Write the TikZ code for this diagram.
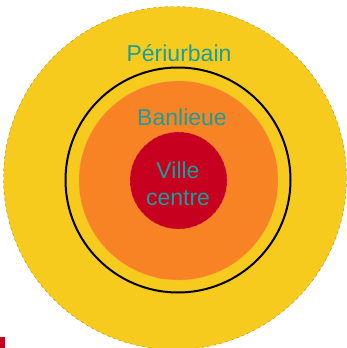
\documentclass[tikz,border=0pt]{standalone}
\usepackage{fontspec}
\setmainfont{Liberation Sans}
\usepackage{xcolor}
\definecolor{periurb}{HTML}{F6CB1E}
\definecolor{banl}{HTML}{F88325}
\definecolor{villec}{HTML}{C8001F}
\definecolor{labelc}{HTML}{1A9E9A}

\begin{document}
\begin{tikzpicture}[x=1pt, y=-1pt]
\tikzset{zonetext/.style={text=labelc, font=\fontsize{23}{27}\selectfont, align=center, inner sep=0pt}}
\useasboundingbox (0,0) rectangle (347,348);
% Zones
\fill[periurb, draw=periurb!70!black, dashed, thin] (175,178) circle (171.5);
\draw[line width=2pt] (178,180) circle (112.5);
\fill[banl, draw=banl!60!pink, dashed, thin] (178.5,180.5) circle (99.5);
\fill[villec, draw=villec!50!pink, dashed, thin] (178.5,180.5) circle (48.5);
% Labels
\node[zonetext] (peri) at (179,53) {Périurbain};
\node[zonetext] (banlieue) at (182,117) {Banlieue};
\node[zonetext] (ville) at (178,184) {Ville\\centre};
% corner mark
\fill[villec] (0,337) rectangle (5,348);
\end{tikzpicture}
\end{document}
